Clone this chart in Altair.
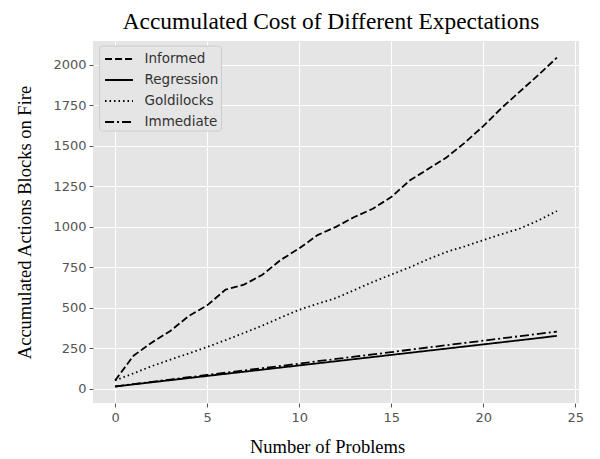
import altair as alt
import pandas as pd

problems = list(range(25))
informed = [51, 204, 286, 357, 449, 515, 612, 643, 704, 796, 867, 949, 1000, 1061, 1112, 1184, 1286, 1357, 1429, 1520, 1622, 1735, 1837, 1939, 2045]
regression = [14, 27, 40, 53, 66, 79, 92, 105, 118, 131, 144, 157, 170, 183, 196, 209, 222, 235, 248, 261, 274, 287, 300, 313, 327]
goldilocks = [51, 95, 140, 180, 218, 258, 300, 345, 390, 440, 488, 525, 560, 610, 660, 705, 750, 800, 845, 880, 918, 955, 990, 1040, 1098]
immediate = [14, 29, 43, 57, 71, 85, 99, 113, 127, 141, 155, 170, 184, 198, 212, 226, 241, 255, 269, 283, 297, 311, 325, 339, 353]

series_names = ["Informed", "Regression", "Goldilocks", "Immediate"]
series_values = [informed, regression, goldilocks, immediate]
dashes = [[7, 3], [1, 0], [1.5, 3], [9, 3, 2, 3]]

rows = []
for name, vals in zip(series_names, series_values):
    for x, v in zip(problems, vals):
        rows.append({"Problems": x, "Cost": v, "Series": name})
df = pd.DataFrame(rows)

chart = alt.Chart(df).mark_line(color="black", strokeWidth=1.8).encode(
    x=alt.X("Problems:Q",
            scale=alt.Scale(domain=[-1.2, 25.2], nice=False, zero=False),
            axis=alt.Axis(values=[0, 5, 10, 15, 20, 25], format="d", title="Number of Problems",
                          titleX=234, titleY=43, titleBaseline="middle", titleAlign="center")),
    y=alt.Y("Cost:Q",
            scale=alt.Scale(domain=[-88, 2148], nice=False, zero=False),
            axis=alt.Axis(values=[0, 250, 500, 750, 1000, 1250, 1500, 1750, 2000], format="d",
                          title="Accumulated Actions Blocks on Fire",
                          titleX=-69, titleY=181, titleAngle=-90,
                          titleBaseline="middle", titleAlign="center")),
    strokeDash=alt.StrokeDash("Series:N",
                              scale=alt.Scale(domain=series_names, range=dashes),
                              sort=series_names,
                              legend=alt.Legend(title=None, orient="none", legendX=6, legendY=4.5,
                                                symbolType="M-1.33,0H1.33", symbolSize=441,
                                                symbolFillColor="transparent",
                                                symbolStrokeWidth=1.8, symbolStrokeColor="black",
                                                symbolOffset=6.5,
                                                labelFontSize=13.5, labelColor="#333333",
                                                labelFont="DejaVu Sans", labelOffset=14,
                                                fillColor="#E5E5E5", strokeColor="#CCCCCC",
                                                cornerRadius=3, padding=2, rowPadding=3)),
    detail="Series:N",
).properties(
    width=486, height=362,
    title=alt.TitleParams("Accumulated Cost of Different Expectations",
                          font="Liberation Serif", fontSize=23.4, fontWeight="normal",
                          color="black", anchor="middle", offset=6.5, dx=-5),
    autosize=alt.AutoSizeParams(type="none"),
    padding={"left": 85, "top": 33, "right": 13, "bottom": 56},
).configure_view(
    fill="#E5E5E5", stroke=None
).configure_axis(
    grid=True, gridColor="white", gridWidth=1,
    domain=False, tickColor="#555555", tickSize=4, tickWidth=1,
    labelColor="#555555", labelFont="DejaVu Sans", labelFontSize=13,
    titleFont="Liberation Serif", titleFontSize=18.5, titleFontWeight="normal", titleColor="black",
).configure_axisY(labelPadding=3).configure_axisX(labelPadding=4)

chart.save("out.html", embed_options={"renderer": "svg", "actions": False})
